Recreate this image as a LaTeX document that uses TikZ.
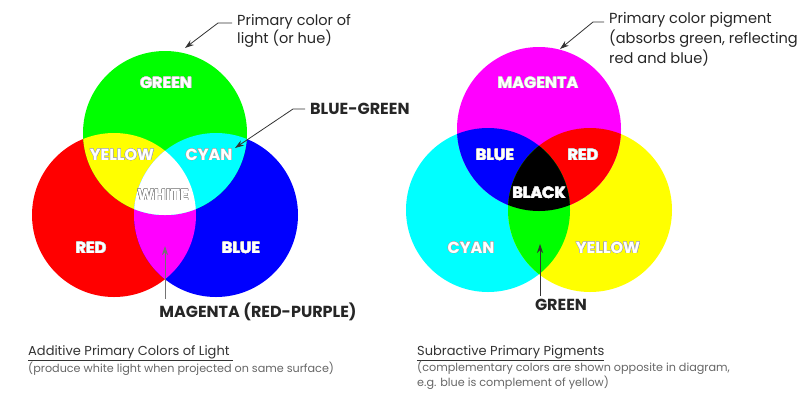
\documentclass[tikz,border=0pt]{standalone}
\usepackage{fontspec}
\setmainfont{Poppins}
\usetikzlibrary{positioning,arrows.meta}
\usepackage{contour}
\contourlength{0.35pt}
\definecolor{lred}{RGB}{255,0,0}
\definecolor{lgreen}{RGB}{0,255,0}
\definecolor{lblue}{RGB}{0,0,255}
\definecolor{lcyan}{RGB}{0,255,255}
\definecolor{lmagenta}{RGB}{255,0,255}
\definecolor{lyellow}{RGB}{255,255,0}
\newcommand{\spottext}[2][black!25]{\contour{#1}{#2}}
\tikzset{
  spot/.style={font=\bfseries\fontsize{16}{16}\selectfont,text=white},
  callout/.style={font=\bfseries\fontsize{16}{16}\selectfont,text=black!85,inner sep=0pt},
  note/.style={font=\fontsize{14.5}{18}\selectfont,text=black!85,align=left,anchor=north west,inner sep=0pt},
  caption/.style={font=\fontsize{13}{13}\selectfont,text=black!80,anchor=base west,inner sep=0pt},
  subcaption/.style={font=\fontsize{11.2}{11.2}\selectfont,text=black!60,align=left,anchor=north west,inner sep=0pt},
  pointer/.style={->,>={Stealth[length=9pt,width=6pt]},line width=0.8pt,black!80},
}
\begin{document}
\begin{tikzpicture}[x=1pt,y=-1pt]
  \useasboundingbox (0,0) rectangle (800,400);
  \def\rad{82}

  % additive light
  \coordinate (R) at (114,215);
  \coordinate (G) at (165,133);
  \coordinate (B) at (216,215);
  \fill[lred] (R) circle (\rad);
  \fill[lblue] (B) circle (\rad);
  \fill[lgreen] (G) circle (\rad);
  \begin{scope}
    \clip (R) circle (\rad);
    \fill[lyellow] (G) circle (\rad);
    \fill[lmagenta] (B) circle (\rad);
    \clip (G) circle (\rad);
    \fill[white] (B) circle (\rad);
  \end{scope}
  \begin{scope}
    \clip (G) circle (\rad);
    \fill[lcyan] (B) circle (\rad);
    \clip (R) circle (\rad);
    \fill[white] (B) circle (\rad);
  \end{scope}

  \node[spot] (lgreen) at (166,83) {\spottext{GREEN}};
  \node[spot] (lyellow) at (122,155) {\spottext[black!35]{YELLOW}};
  \node[spot] (lcyan) at (209,155) {\spottext[black!35]{CYAN}};
  \node[spot] (lwhite) at (163,195) {\spottext[black!50]{WHITE}};
  \node[spot] (lred) at (91,248) {\spottext{RED}};
  \node[spot] (lblue) at (241,248) {\spottext{BLUE}};

  \node[note] (lightnote) at (237,14) {Primary color of\\light (or hue)};
  \coordinate (lighttip) at (185,48);
  \draw[pointer] ([xshift=-5pt]lightnote.west |- 0,23) -- ++(-14,0) -- (lighttip);

  \node[callout,anchor=west] (bluegreen) at (310,109) {BLUE-GREEN};
  \coordinate (cyantip) at (235,148);
  \draw[pointer] ([xshift=-5pt]bluegreen.west) -- ++(-12,0) -- (cyantip);

  \node[callout] (redpurple) at (258,312) {MAGENTA (RED-PURPLE)};
  \coordinate (magtip) at (165,246);
  \draw[pointer,black!55] (redpurple.north -| magtip) ++(0,-4) -- (magtip);

  \node[caption] (addtitle) at (28,355) {\underline{Additive Primary Colors of Light }};
  \node[subcaption] (addsub) at (28,362) {(produce white light when projected on same surface)};

  % subtractive pigments
  \coordinate (M) at (539,129);
  \coordinate (C) at (488,210);
  \coordinate (Y) at (590,210);
  \fill[lcyan] (C) circle (\rad);
  \fill[lyellow] (Y) circle (\rad);
  \fill[lmagenta] (M) circle (\rad);
  \begin{scope}
    \clip (M) circle (\rad);
    \fill[lblue] (C) circle (\rad);
    \fill[lred] (Y) circle (\rad);
    \clip (C) circle (\rad);
    \fill[black] (Y) circle (\rad);
  \end{scope}
  \begin{scope}
    \clip (C) circle (\rad);
    \fill[lgreen] (Y) circle (\rad);
    \clip (M) circle (\rad);
    \fill[black] (Y) circle (\rad);
  \end{scope}

  \node[spot] (pmagenta) at (538,83) {\spottext{MAGENTA}};
  \node[spot] (pblue) at (495,155) {\spottext{BLUE}};
  \node[spot] (pred) at (583,155) {\spottext{RED}};
  \node[spot] (pblack) at (539,193) {\spottext{BLACK}};
  \node[spot] (pcyan) at (471,248) {\spottext[black!35]{CYAN}};
  \node[spot] (pyellow) at (608,248) {\spottext[black!35]{YELLOW}};

  \node[note,font=\fontsize{14.6}{20}\selectfont] (pigmentnote) at (609,12) {Primary color pigment\\(absorbs green, reflecting\\red and blue)};
  \coordinate (pigmenttip) at (560,49);
  \draw[pointer] ([xshift=-5pt]pigmentnote.west |- 0,22) -- ++(-11,0) -- (pigmenttip);

  \node[callout] (pgreen) at (561,305) {GREEN};
  \coordinate (greentip) at (540,244);
  \draw[pointer] (pgreen.north -| greentip) ++(0,-3) -- (greentip);

  \node[caption] (subtitle) at (417,355) {\underline{Subractive Primary Pigments}};
  \node[subcaption] (subsub) at (417,361) {(complementary colors are shown opposite in diagram,\\e.g. blue is complement of yellow)};
\end{tikzpicture}
\end{document}
